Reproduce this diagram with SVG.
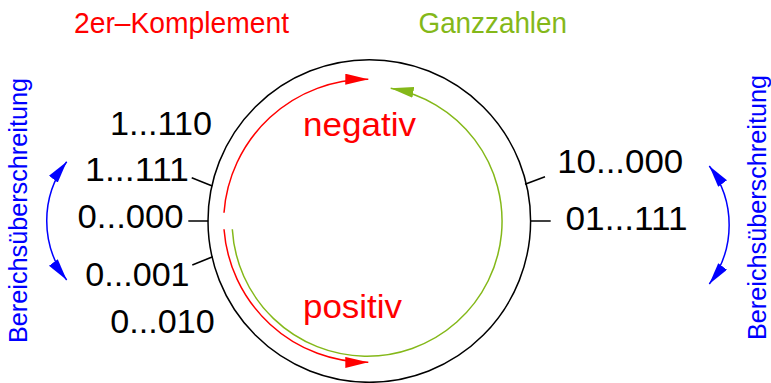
<svg xmlns="http://www.w3.org/2000/svg" width="771" height="383" viewBox="0 0 771 383">
<style>
text{font-family:"Liberation Sans",Arial,sans-serif;}
.num{font-size:33px;fill:#000;}
.red{fill:#ff0000;}
.grn{fill:#84b819;}
.blue{fill:#0000ff;font-size:26px;}
.ln{fill:none;stroke-width:1.5;}
</style>
<defs>
<marker id="ar" markerUnits="userSpaceOnUse" markerWidth="24" markerHeight="12" refX="23" refY="5.5" orient="auto"><path d="M0,0 L23,5.5 L0,11 Z" fill="#ff0000"/></marker>
<marker id="ag" markerUnits="userSpaceOnUse" markerWidth="24" markerHeight="12" refX="23" refY="5.5" orient="auto"><path d="M0,0 L23,5.5 L0,11 Z" fill="#84b819"/></marker>
<marker id="ab" markerUnits="userSpaceOnUse" markerWidth="24" markerHeight="12" refX="22" refY="5.5" orient="auto-start-reverse"><path d="M0,0 L22,5.5 L0,11 Z" fill="#0000ff"/></marker>
</defs>
<g id="ring">
<circle cx="369.3" cy="221" r="161.3" class="ln" stroke="#000"/>
</g>
<g id="connectors">
<line x1="188.3" y1="221" x2="208.3" y2="221" class="ln" stroke="#000"/>
<line x1="191.7" y1="177.7" x2="212.3" y2="186" class="ln" stroke="#000"/>
<line x1="192.3" y1="265" x2="212.7" y2="256.7" class="ln" stroke="#000"/>
<line x1="530.7" y1="221" x2="550.7" y2="221" class="ln" stroke="#000"/>
<line x1="525" y1="184.3" x2="545" y2="176.7" class="ln" stroke="#000"/>
<path d="M224,212.7 A144 144 0 0 1 368.3,79.3" class="ln" stroke="#ff0000" marker-end="url(#ar)"/>
<path d="M224,229.3 A144 144 0 0 0 368.3,362.3" class="ln" stroke="#ff0000" marker-end="url(#ar)"/>
<path d="M232.3,229.3 A135 135 0 1 0 390.7,88.3" class="ln" stroke="#84b819" marker-end="url(#ag)"/>
<path d="M66.7,161.7 A97.6 97.6 0 0 0 66.7,280" class="ln" stroke="#0000ff" marker-start="url(#ab)" marker-end="url(#ab)"/>
<path d="M709.3,166 A97.6 97.6 0 0 1 709.3,284" class="ln" stroke="#0000ff" marker-start="url(#ab)" marker-end="url(#ab)"/>
</g>
<g id="titles">
<text x="74" y="33" font-size="30" class="red" textLength="215" lengthAdjust="spacingAndGlyphs">2er–Komplement</text>
<text x="418.5" y="33" font-size="30" class="grn" textLength="148.5" lengthAdjust="spacingAndGlyphs">Ganzzahlen</text>
</g>
<g id="labels">
<text x="110" y="135" class="num" textLength="102" lengthAdjust="spacingAndGlyphs">1...110</text>
<text x="85" y="180.7" class="num" textLength="104" lengthAdjust="spacingAndGlyphs">1...111</text>
<text x="77.6" y="228.3" class="num" textLength="106" lengthAdjust="spacingAndGlyphs">0...000</text>
<text x="85.3" y="285.7" class="num" textLength="104.3" lengthAdjust="spacingAndGlyphs">0...001</text>
<text x="110.3" y="333" class="num" textLength="104.4" lengthAdjust="spacingAndGlyphs">0...010</text>
<text x="557.2" y="172.7" class="num" textLength="126" lengthAdjust="spacingAndGlyphs">10...000</text>
<text x="565.5" y="230" class="num" textLength="122" lengthAdjust="spacingAndGlyphs">01...111</text>
<text x="303" y="136" font-size="33" class="red" textLength="113" lengthAdjust="spacingAndGlyphs">negativ</text>
<text x="303" y="318" font-size="33" class="red" textLength="99" lengthAdjust="spacingAndGlyphs">positiv</text>
</g>
<g id="overflow">
<text transform="translate(26.5,343) rotate(-90)" class="blue" textLength="265" lengthAdjust="spacingAndGlyphs">Bereichsüberschreitung</text>
<text transform="translate(766,340) rotate(-90)" class="blue" textLength="265" lengthAdjust="spacingAndGlyphs">Bereichsüberschreitung</text>
</g>
</svg>
